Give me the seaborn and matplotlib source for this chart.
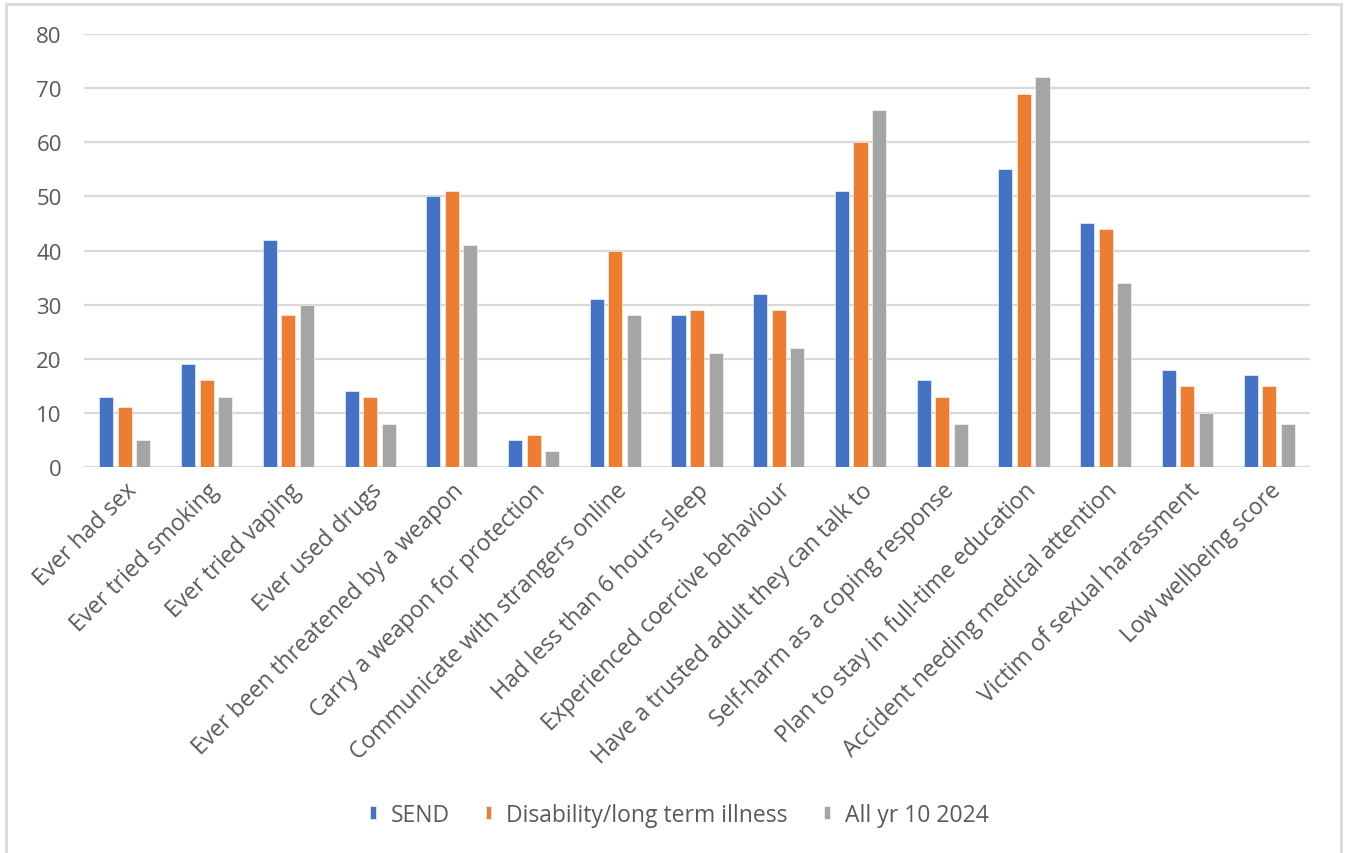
import matplotlib
matplotlib.use("Agg")
import matplotlib.pyplot as plt
from matplotlib.patches import Rectangle
import seaborn as sns
import pandas as pd

categories = [
    "Ever had sex",
    "Ever tried smoking",
    "Ever tried vaping",
    "Ever used drugs",
    "Ever been threatened by a weapon",
    "Carry a weapon for protection",
    "Communicate with strangers online",
    "Had less than 6 hours sleep",
    "Experienced coercive behaviour",
    "Have a trusted adult they can talk to",
    "Self-harm as a coping response",
    "Plan to stay in full-time education",
    "Accident needing medical attention",
    "Victim of sexual harassment",
    "Low wellbeing score",
]
send = [13, 19, 42, 14, 50, 5, 31, 28, 32, 51, 16, 55, 45, 18, 17]
disability = [11, 16, 28, 13, 51, 6, 40, 29, 29, 60, 13, 69, 44, 15, 15]
all_yr10 = [5, 13, 30, 8, 41, 3, 28, 21, 22, 66, 8, 72, 34, 10, 8]
series_names = ["SEND", "Disability/long term illness", "All yr 10 2024"]
y_ticks = [0, 10, 20, 30, 40, 50, 60, 70, 80]

colors = ["#4472C4", "#ED7D31", "#A5A5A5"]
text_color = "#595959"
grid_color = "#D9D9D9"

rows = []
for name, vals in zip(series_names, [send, disability, all_yr10]):
    for cat, v in zip(categories, vals):
        rows.append({"category": cat, "series": name, "value": v})
df = pd.DataFrame(rows)

sns.set_style("white")
plt.rcParams["font.family"] = ["Open Sans", "DejaVu Sans"]

fig = plt.figure(figsize=(13.46, 8.54), dpi=100)
ax = fig.add_axes([0.0624, 0.452, 0.9109, 0.507])

sns.barplot(
    data=df, x="category", y="value", hue="series",
    order=categories, hue_order=series_names, palette=colors,
    width=0.68, gap=0.24, saturation=1, ax=ax, errorbar=None,
    edgecolor="white", linewidth=0.4,
)

ax.set_ylim(0, 80)
ax.set_yticks(y_ticks)
ax.set_xlim(-0.5, len(categories) - 0.5)
ax.yaxis.grid(True, color=grid_color, linewidth=1.6)
ax.set_axisbelow(True)
for s in ax.spines.values():
    s.set_visible(False)
ax.set_xlabel("")
ax.set_ylabel("")
ax.tick_params(axis="y", length=0, pad=16, labelsize=16, labelcolor=text_color)
ax.tick_params(axis="x", length=0, pad=8, labelsize=16.5, labelcolor=text_color)
plt.setp(ax.get_xticklabels(), rotation=45, ha="right", rotation_mode="anchor")

handles, labels = ax.get_legend_handles_labels()
ax.legend_.remove()
fig.legend(
    handles, labels, loc="center", bbox_to_anchor=(679 / 1346, 1 - 816 / 854),
    ncol=3, frameon=False, fontsize=16.5, labelcolor=text_color,
    handlelength=0.26, handleheight=0.48, handletextpad=0.65, columnspacing=1.57,
)

# Outer chart frame
fig.patches.append(Rectangle(
    (6 / 1346, -0.05), (1341 - 6) / 1346, 1.05 - 5 / 854,
    transform=fig.transFigure, fill=False, edgecolor=grid_color,
    linewidth=2, clip_on=False,
))

fig.savefig("out.png", dpi=100, facecolor="white")
